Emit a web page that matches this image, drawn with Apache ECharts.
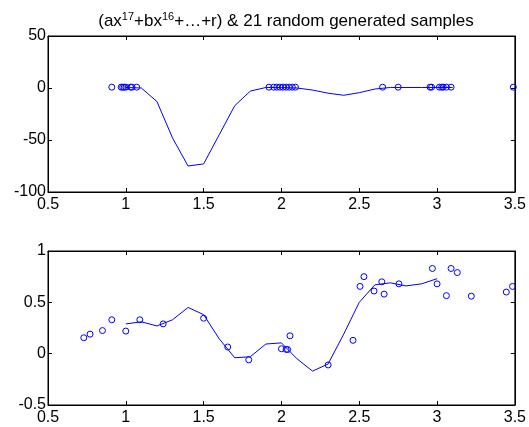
<!DOCTYPE html>
<html>
<head>
<meta charset="utf-8">
<script src="https://cdn.jsdelivr.net/npm/echarts@6/dist/echarts.min.js"></script>
<style>
  html, body { margin: 0; padding: 0; background: #fff; }
  #main { width: 529px; height: 427px; }
</style>
</head>
<body>
<div id="main"></div>
<script>
    'use strict';

    // tick labels
    var xTicks = [0.5, 1, 1.5, 2, 2.5, 3, 3.5];
    var yTicksTop = [-100, -50, 0, 50];
    var yTicksBottom = [-0.5, 0, 0.5, 1];

    // upper plot: samples (all near zero on this scale) and the polynomial curve
    var topSampleX = [0.91, 0.97, 0.98, 0.99, 1.0, 1.03, 1.04, 1.07,
                      1.92, 1.95, 1.97, 1.99, 2.01, 2.03, 2.05, 2.07, 2.09,
                      2.65, 2.75, 2.955, 2.965, 3.015, 3.03, 3.04, 3.06, 3.09, 3.49];
    var topSampleY = [0.8, 0.8, 0.8, 0.8, 0.8, 0.8, 0.8, 0.8,
                      0.8, 0.8, 0.8, 0.8, 0.8, 0.8, 0.8, 0.8, 0.8,
                      0.8, 0.8, 0.8, 0.8, 0.8, 0.8, 0.8, 0.8, 0.8, 0.8];
    var topCurveX = [1.0, 1.1, 1.2, 1.3, 1.4, 1.5, 1.6, 1.7, 1.8, 1.9, 2.0,
                     2.1, 2.2, 2.3, 2.4, 2.5, 2.6, 2.7, 2.8, 2.9, 3.0, 3.1];
    var topCurveY = [0.5, 0, -13, -48, -75, -73, -45, -17, -3, 0.5, 0.5,
                     0, -2, -5, -7, -4.5, -1, 0.5, 0.5, 0.5, 0.5, 0.5];

    // lower plot: samples and the fitted curve
    var botSampleX = [0.73, 0.77, 0.85, 0.91, 1.0, 1.09, 1.24, 1.5, 1.655, 1.79,
                      2.0, 2.03, 2.04, 2.055, 2.3, 2.46, 2.505, 2.53, 2.595, 2.645,
                      2.66, 2.755, 2.97, 3.0, 3.06, 3.09, 3.13, 3.22, 3.445, 3.485];
    var botSampleY = [0.155, 0.19, 0.225, 0.33, 0.22, 0.33, 0.29, 0.345, 0.065, -0.06,
                      0.048, 0.042, 0.04, 0.174, -0.11, 0.13, 0.655, 0.75, 0.61, 0.7,
                      0.58, 0.68, 0.83, 0.68, 0.565, 0.83, 0.79, 0.56, 0.6, 0.655];
    var botCurveX = [1.0, 1.1, 1.2, 1.3, 1.4, 1.5, 1.6, 1.7, 1.8, 1.9, 2.0,
                     2.1, 2.2, 2.3, 2.4, 2.5, 2.6, 2.7, 2.8, 2.9, 3.0];
    var botCurveY = [0.29, 0.31, 0.27, 0.33, 0.45, 0.38, 0.145, -0.04, -0.03, 0.094, 0.105,
                     -0.05, -0.17, -0.10, 0.19, 0.5, 0.67, 0.69, 0.66, 0.68, 0.73];

    function pairs(xs, ys) {
        var out = [];
        for (var i = 0; i < xs.length; i++) {
            out.push([xs[i], ys[i]]);
        }
        return out;
    }

    var blue = '#0000ff';
    var fontName = 'Liberation Sans, Arial, sans-serif';

    function xAxisDef(gridIndex, withLabels, pos) {
        return {
            type: 'value', gridIndex: gridIndex, position: pos,
            min: xTicks[0], max: xTicks[xTicks.length - 1], interval: 0.5,
            axisLine: { show: true, onZero: false, lineStyle: { color: '#000', width: 1 } },
            axisTick: { show: true, inside: true, length: 4, lineStyle: { color: '#000' } },
            axisLabel: withLabels ? {
                show: true, margin: 5, color: '#000',
                fontSize: 16, fontFamily: fontName,
                showMinLabel: true, showMaxLabel: true
            } : { show: false },
            splitLine: { show: false }
        };
    }

    function yAxisDef(gridIndex, ticks, withLabels, pos) {
        return {
            type: 'value', gridIndex: gridIndex, position: pos,
            min: ticks[0], max: ticks[ticks.length - 1], interval: ticks[1] - ticks[0],
            axisLine: { show: true, onZero: false, lineStyle: { color: '#000', width: 1 } },
            axisTick: { show: true, inside: true, length: 4, lineStyle: { color: '#000' } },
            axisLabel: withLabels ? {
                show: true, margin: 2, color: '#000',
                fontSize: 16, fontFamily: fontName,
                padding: [3, 0, 0, 0],
                showMinLabel: true, showMaxLabel: true
            } : { show: false },
            splitLine: { show: false }
        };
    }

    var chart = echarts.init(document.getElementById('main'));

    var option = {
        backgroundColor: '#fff',
        animation: false,
        title: {
            text: '{a|(ax}{s|17}{a|+bx}{s|16}{a|+\u2026+r) & 21 random generated samples}',
            left: 281, top: 6, textAlign: 'center',
            textStyle: {
                fontWeight: 'normal',
                rich: {
                    a: { fontSize: 17, fontWeight: 'normal', color: '#000', fontFamily: fontName, lineHeight: 20 },
                    s: { fontSize: 11, fontWeight: 'normal', color: '#000', fontFamily: fontName, lineHeight: 20, padding: [0, 0, 9, 0] }
                }
            }
        },
        grid: [
            { left: 48, top: 36, width: 468, height: 156, show: true, borderColor: '#000', borderWidth: 1, backgroundColor: '#fff' },
            { left: 48, top: 251, width: 468, height: 154, show: true, borderColor: '#000', borderWidth: 1, backgroundColor: '#fff' }
        ],
        xAxis: [
            xAxisDef(0, true, 'bottom'),
            xAxisDef(0, false, 'top'),
            xAxisDef(1, true, 'bottom'),
            xAxisDef(1, false, 'top')
        ],
        yAxis: [
            yAxisDef(0, yTicksTop, true, 'left'),
            yAxisDef(0, yTicksTop, false, 'right'),
            yAxisDef(1, yTicksBottom, true, 'left'),
            yAxisDef(1, yTicksBottom, false, 'right')
        ],
        series: [
            {
                type: 'line', xAxisIndex: 0, yAxisIndex: 0,
                data: pairs(topCurveX, topCurveY),
                showSymbol: false, lineStyle: { color: blue, width: 1 }
            },
            {
                type: 'scatter', xAxisIndex: 0, yAxisIndex: 0,
                data: pairs(topSampleX, topSampleY),
                symbol: 'circle', symbolSize: 6,
                itemStyle: { color: 'rgba(0,0,0,0)', borderColor: blue, borderWidth: 1, opacity: 1 }
            },
            {
                type: 'line', xAxisIndex: 2, yAxisIndex: 2,
                data: pairs(botCurveX, botCurveY),
                showSymbol: false, lineStyle: { color: blue, width: 1 }
            },
            {
                type: 'scatter', xAxisIndex: 2, yAxisIndex: 2,
                data: pairs(botSampleX, botSampleY),
                symbol: 'circle', symbolSize: 6,
                itemStyle: { color: 'rgba(0,0,0,0)', borderColor: blue, borderWidth: 1, opacity: 1 }
            }
        ]
    };

    chart.setOption(option);
</script>
</body>
</html>
